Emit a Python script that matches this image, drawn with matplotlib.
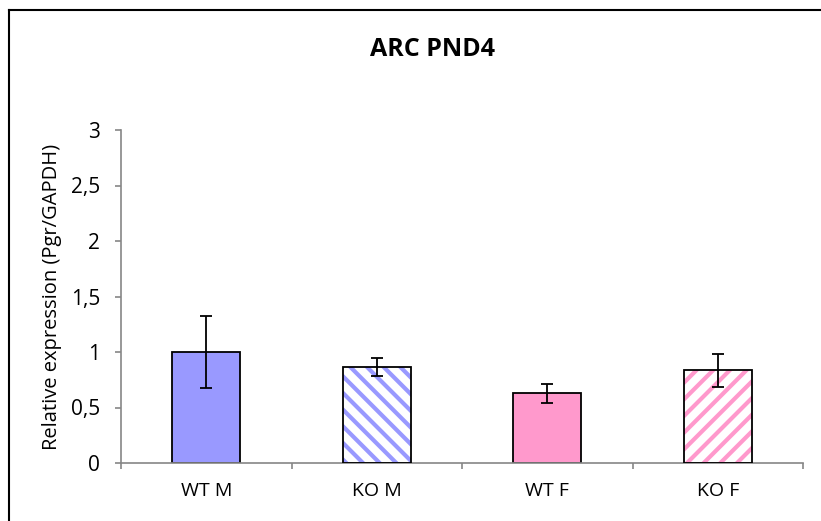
import matplotlib
matplotlib.use("Agg")
import matplotlib.pyplot as plt
from matplotlib.lines import Line2D
import numpy as np

plt.rcParams['font.family'] = ['Open Sans', 'DejaVu Sans']
plt.rcParams['hatch.linewidth'] = 3.0

groups = ["WT M", "KO M", "WT F", "KO F"]
means = [1.0, 0.865, 0.63, 0.835]
errs = [0.32, 0.085, 0.085, 0.15]
fills = ["#9999FF", "white", "#FF99CC", "white"]
stripes = [None, "#9999FF", None, "#FF99CC"]
hatches = [None, "\\\\", None, "//"]

fig = plt.figure(figsize=(8.21, 5.21), dpi=100)
ax = fig.add_axes([121/821, 1-463/521, (803-121)/821, (463-130)/521])

x = np.arange(len(groups))
for i in range(len(groups)):
    if hatches[i]:
        ax.bar(x[i], means[i], width=0.4, color="white", edgecolor=stripes[i],
               hatch=hatches[i], linewidth=0, zorder=2)
        ax.bar(x[i], means[i], width=0.4, fill=False, edgecolor="black",
               linewidth=1.3, zorder=3)
    else:
        ax.bar(x[i], means[i], width=0.4, color=fills[i], edgecolor="black",
               linewidth=1.3, zorder=2)
ax.errorbar(x, means, yerr=errs, fmt="none", ecolor="black", elinewidth=1.3,
            capsize=4, capthick=1.3, zorder=4)

ax.set_xlim(-0.5, 3.5)
ax.set_ylim(0, 3)
ax.set_yticks([0, 0.5, 1, 1.5, 2, 2.5, 3])
ax.set_yticklabels(["0", "0,5", "1", "1,5", "2", "2,5", "3"], fontsize=15)
ax.set_xticks(x)
ax.set_xticklabels(groups, fontsize=14)
ax.set_xticks([-0.5, 0.5, 1.5, 2.5, 3.5], minor=True)
ax.tick_params(axis="x", which="major", length=0, pad=14)
ax.tick_params(axis="x", which="minor", length=4, color="#868686", width=1.2)
ax.tick_params(axis="y", length=4, color="#868686", width=1.2, pad=11)
for s in ["top", "right"]:
    ax.spines[s].set_visible(False)
for s in ["left", "bottom"]:
    ax.spines[s].set_color("#868686")
    ax.spines[s].set_linewidth(1.2)
ax.set_ylabel("Relative expression (Pgr/GAPDH)", fontsize=14.5, labelpad=6)

fig.text(432/821, 1-50/521, "ARC PND4", ha="center", va="center",
         fontsize=18, fontweight="bold")

# outer chart frame (only top and left edges visible)
fig.add_artist(Line2D([9/821, 1], [1-10/521, 1-10/521], color="black", lw=1.5))
fig.add_artist(Line2D([9/821, 9/821], [0, 1-10/521], color="black", lw=1.5))

fig.savefig("out.png", dpi=100)
